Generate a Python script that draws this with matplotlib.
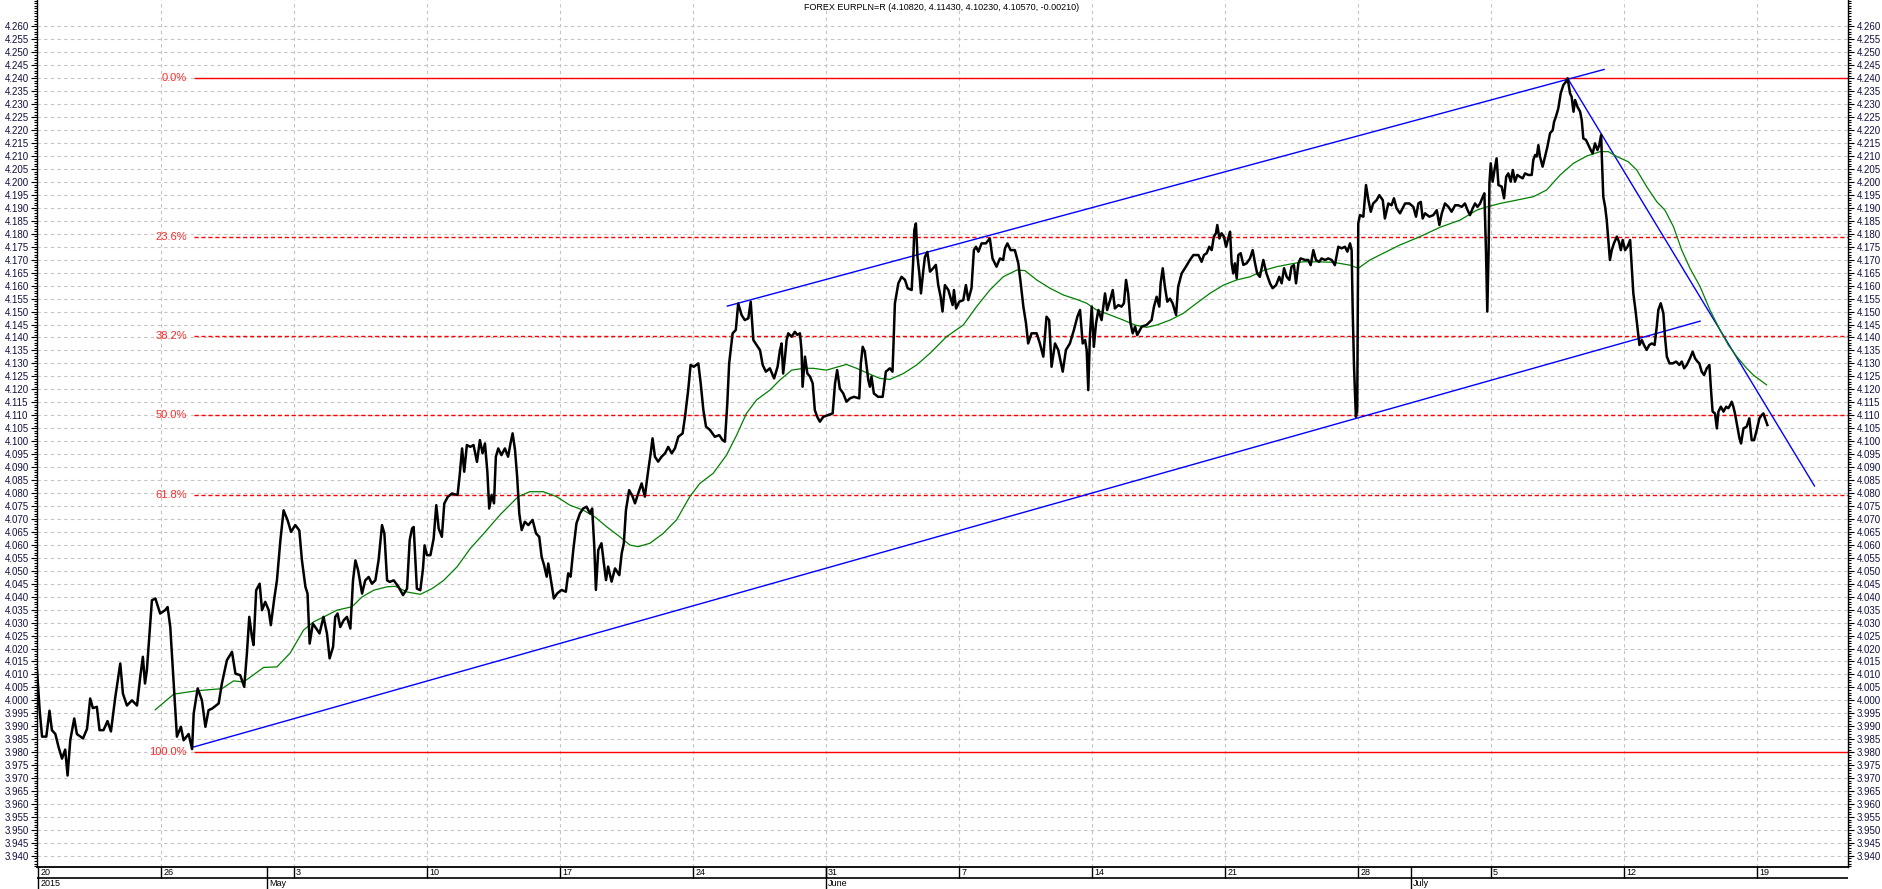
import matplotlib
matplotlib.use("Agg")
from matplotlib import pyplot as plt
import matplotlib.ticker as ticker

plt.rcParams['font.family'] = ['Liberation Sans', 'DejaVu Sans']

title = "FOREX EURPLN=R (4.10820, 4.11430, 4.10230, 4.10570, -0.00210)"

# x = trading days counted from Monday 20 April 2015 (weekends removed)
# close prices in four stretches
seg1_days = [0.34, 0.44, 0.53, 0.69, 0.81, 0.90, 1.03, 1.15, 1.28, 1.40,
             1.49, 1.59, 1.74, 1.84, 2.07, 2.22, 2.34, 2.44, 2.59, 2.69,
             2.84, 2.99, 3.12, 3.28, 3.47, 3.57, 3.72, 3.91, 4.10, 4.22,
             4.32, 4.40, 4.47, 4.66, 4.79, 4.97, 5.16, 5.25, 5.35, 5.48,
             5.60, 5.75, 5.85, 6.04, 6.17, 6.23, 6.38, 6.54, 6.67, 6.79,
             6.92, 7.17, 7.29, 7.48, 7.67, 7.80, 7.98, 8.13, 8.23, 8.32,
             8.42, 8.48, 8.58, 8.71, 8.80, 8.92, 9.05, 9.13, 9.26, 9.36,
             9.49, 9.61, 9.76, 9.89, 10.05, 10.20, 10.30, 10.43, 10.51, 10.59,
             10.71, 10.84, 10.96, 11.11, 11.24, 11.34, 11.47, 11.55, 11.64, 11.74,
             11.87, 11.99, 12.12, 12.22, 12.31, 12.41, 12.56, 12.68, 12.81, 12.93,
             13.06, 13.18, 13.31, 13.40, 13.50, 13.60, 13.75, 13.93, 14.10, 14.25,
             14.35, 14.44, 14.50, 14.62, 14.75, 14.85, 14.91, 15.00, 15.13, 15.25,
             15.35, 15.44, 15.56, 15.65, 15.78, 15.94, 16.15, 16.23, 16.32, 16.40,
             16.50, 16.63, 16.75, 16.88]
seg1_close = [4.0116, 3.9962, 3.9860, 3.9860, 3.9960, 3.9885, 3.9870, 3.9820, 3.9775, 3.9810,
              3.9710, 3.9846, 3.9930, 3.9870, 3.9853, 3.9890, 4.0007, 3.9970, 3.9975, 3.9885,
              3.9885, 3.9920, 3.9880, 4.0010, 4.0142, 4.0026, 3.9980, 4.0000, 3.9980, 4.0090,
              4.0168, 4.0065, 4.0116, 4.0386, 4.0393, 4.0335, 4.0348, 4.0360, 4.0283, 4.0065,
              3.9860, 3.9898, 3.9846, 3.9870, 3.9812, 3.9949, 4.0046, 4.0000, 3.9898, 3.9962,
              3.9968, 3.9988, 4.0065, 4.0155, 4.0187, 4.0103, 4.0097, 4.0052, 4.0180, 4.0322,
              4.0245, 4.0213, 4.0425, 4.0450, 4.0348, 4.0380, 4.0348, 4.0290, 4.0393, 4.0463,
              4.0618, 4.0733, 4.0695, 4.0650, 4.0676, 4.0656, 4.0540, 4.0438, 4.0412, 4.0219,
              4.0296, 4.0277, 4.0258, 4.0322, 4.0258, 4.0162, 4.0206, 4.0322, 4.0335, 4.0283,
              4.0309, 4.0322, 4.0277, 4.0463, 4.0540, 4.0502, 4.0412, 4.0463, 4.0476, 4.0450,
              4.0463, 4.0540, 4.0676, 4.0643, 4.0463, 4.0457, 4.0463, 4.0438, 4.0406, 4.0431,
              4.0618, 4.0663, 4.0669, 4.0431, 4.0425, 4.0508, 4.0598, 4.0560, 4.0560, 4.0624,
              4.0753, 4.0663, 4.0631, 4.0759, 4.0785, 4.0798, 4.0792, 4.0869, 4.0972, 4.0882,
              4.0985, 4.0978, 4.0985, 4.0920]

seg2_days = [16.99, 17.09, 17.18, 17.27, 17.34, 17.43, 17.52, 17.59, 17.68, 17.80,
             17.93, 18.05, 18.14, 18.22, 18.31, 18.39, 18.47, 18.56, 18.68, 18.81,
             18.97, 19.10, 19.22, 19.31, 19.40, 19.50, 19.56, 19.62, 19.72, 19.77,
             19.90, 20.06, 20.22, 20.31, 20.40, 20.50, 20.62, 20.75, 20.87, 21.00,
             21.13, 21.21, 21.29, 21.35, 21.44, 21.56, 21.65, 21.73, 21.81, 21.94,
             22.07, 22.23, 22.32, 22.40, 22.48, 22.60, 22.73, 22.82, 22.94, 23.07,
             23.19, 23.32, 23.41, 23.48, 23.57, 23.69, 23.82, 23.95, 24.07, 24.20,
             24.32, 24.45, 24.61, 24.70, 24.82, 24.91, 25.03, 25.20, 25.29, 25.39,
             25.49, 25.64, 25.82, 25.99, 26.11, 26.20, 26.29, 26.36, 26.49, 26.61,
             26.70, 26.83, 26.95, 27.08, 27.17, 27.27, 27.39, 27.52, 27.62, 27.74,
             27.89, 28.05, 28.18, 28.27, 28.33, 28.39, 28.46, 28.52, 28.58, 28.71,
             28.83, 28.92, 29.02, 29.08, 29.12, 29.21, 29.30, 29.40, 29.50, 29.58,
             29.67, 29.77, 29.90, 30.09, 30.25, 30.34, 30.42, 30.52, 30.65, 30.77,
             30.90, 31.05, 31.25, 31.31, 31.38, 31.46, 31.53, 31.59, 31.65, 31.71,
             31.80, 31.96, 32.13, 32.18, 32.25, 32.40, 32.50, 32.53, 32.59, 32.72,
             32.84, 32.97, 33.07, 33.22, 33.28, 33.32, 33.38, 33.44, 33.51, 33.57,
             33.66, 33.72, 33.81, 33.91, 34.03, 34.13, 34.22, 34.31, 34.38, 34.47,
             34.60]
seg2_close = [4.1004, 4.0953, 4.0991, 4.0882, 4.0740, 4.0792, 4.0760, 4.0940, 4.0972, 4.0946,
              4.0972, 4.0940, 4.0991, 4.1030, 4.0966, 4.0863, 4.0721, 4.0657, 4.0689, 4.0676,
              4.0696, 4.0644, 4.0631, 4.0554, 4.0522, 4.0477, 4.0528, 4.0490, 4.0426, 4.0393,
              4.0413, 4.0426, 4.0419, 4.0490, 4.0477, 4.0580, 4.0683, 4.0721, 4.0740, 4.0747,
              4.0721, 4.0740, 4.0593, 4.0426, 4.0580, 4.0606, 4.0528, 4.0464, 4.0516, 4.0458,
              4.0509, 4.0483, 4.0567, 4.0606, 4.0734, 4.0811, 4.0786, 4.0760, 4.0798, 4.0837,
              4.0786, 4.0889, 4.0953, 4.1011, 4.0940, 4.0921, 4.0940, 4.0953, 4.0978, 4.0953,
              4.0972, 4.1017, 4.1030, 4.1094, 4.1197, 4.1294, 4.1287, 4.1300, 4.1223, 4.1120,
              4.1056, 4.1043, 4.1017, 4.1023, 4.1004, 4.0998, 4.1146, 4.1300, 4.1416, 4.1429,
              4.1531, 4.1486, 4.1467, 4.1474, 4.1538, 4.1390, 4.1371, 4.1351, 4.1294, 4.1268,
              4.1281, 4.1242, 4.1287, 4.1351, 4.1377, 4.1261, 4.1326, 4.1390, 4.1416, 4.1403,
              4.1422, 4.1410, 4.1416, 4.1351, 4.1210, 4.1326, 4.1261, 4.1249, 4.1223, 4.1120,
              4.1094, 4.1075, 4.1094, 4.1101, 4.1107, 4.1223, 4.1274, 4.1203, 4.1184, 4.1152,
              4.1165, 4.1171, 4.1165, 4.1300, 4.1364, 4.1345, 4.1287, 4.1236, 4.1210, 4.1249,
              4.1184, 4.1171, 4.1171, 4.1210, 4.1268, 4.1281, 4.1268, 4.1351, 4.1531, 4.1609,
              4.1634, 4.1622, 4.1590, 4.1583, 4.1699, 4.1814, 4.1840, 4.1711, 4.1647, 4.1570,
              4.1660, 4.1711, 4.1730, 4.1654, 4.1667, 4.1680, 4.1602, 4.1557, 4.1500, 4.1602,
              4.1583]

seg3_days = [34.76, 34.81, 34.89, 35.01, 35.16, 35.26, 35.35, 35.47, 35.56, 35.64,
             35.73, 35.85, 36.01, 36.16, 36.26, 36.41, 36.54, 36.66, 36.73, 36.82,
             36.94, 37.10, 37.23, 37.32, 37.42, 37.52, 37.60, 37.73, 37.92, 38.04,
             38.17, 38.29, 38.39, 38.48, 38.61, 38.73, 38.90, 39.02, 39.17, 39.32,
             39.45, 39.55, 39.65, 39.74, 39.80, 39.86, 39.92, 39.99, 40.07, 40.15,
             40.24, 40.36, 40.49, 40.57, 40.68, 40.78, 40.86, 40.99, 41.11, 41.20,
             41.28, 41.36, 41.45, 41.53, 41.62, 41.70, 41.87, 42.05, 42.24, 42.33,
             42.43, 42.53, 42.58, 42.66, 42.74, 42.83, 42.93, 43.03, 43.16, 43.24,
             43.37, 43.53, 43.68, 43.81, 44.00, 44.12, 44.21, 44.31, 44.41, 44.50,
             44.58, 44.66, 44.71, 44.79, 44.87, 44.96, 45.04, 45.12, 45.19, 45.25,
             45.31, 45.37, 45.44, 45.50, 45.59, 45.69, 45.81, 45.94, 46.04, 46.13,
             46.21, 46.31, 46.44, 46.56, 46.69, 46.79, 46.92, 47.04, 47.13, 47.22,
             47.32, 47.42, 47.50, 47.59, 47.67, 47.76, 47.84, 48.01, 48.13, 48.22,
             48.32, 48.42, 48.54, 48.63, 48.76, 48.88, 49.01, 49.13, 49.26, 49.38,
             49.51, 49.60, 49.70, 49.76, 49.80, 49.85, 49.92, 49.97, 50.01, 50.07,
             50.20, 50.30, 50.39, 50.48, 50.57, 50.70, 50.80, 50.93, 51.01, 51.14,
             51.26, 51.35, 51.45]
seg3_close = [4.1525, 4.1583, 4.1512, 4.1538, 4.1544, 4.1602, 4.1544, 4.1590, 4.1737, 4.1750,
              4.1731, 4.1763, 4.1763, 4.1782, 4.1705, 4.1673, 4.1705, 4.1699, 4.1744, 4.1763,
              4.1737, 4.1737, 4.1686, 4.1609, 4.1519, 4.1454, 4.1377, 4.1416, 4.1416, 4.1377,
              4.1326, 4.1480, 4.1467, 4.1287, 4.1377, 4.1352, 4.1268, 4.1352, 4.1377, 4.1429,
              4.1480, 4.1506, 4.1377, 4.1390, 4.1352, 4.1197, 4.1403, 4.1519, 4.1364, 4.1454,
              4.1506, 4.1467, 4.1570, 4.1506, 4.1544, 4.1583, 4.1512, 4.1525, 4.1519, 4.1532,
              4.1622, 4.1570, 4.1454, 4.1416, 4.1442, 4.1409, 4.1442, 4.1448, 4.1467, 4.1519,
              4.1557, 4.1519, 4.1609, 4.1667, 4.1596, 4.1538, 4.1550, 4.1532, 4.1487, 4.1596,
              4.1647, 4.1673, 4.1699, 4.1718, 4.1718, 4.1692, 4.1718, 4.1725, 4.1750, 4.1737,
              4.1789, 4.1802, 4.1834, 4.1782, 4.1802, 4.1789, 4.1750, 4.1782, 4.1808, 4.1686,
              4.1647, 4.1686, 4.1628, 4.1718, 4.1725, 4.1680, 4.1686, 4.1705, 4.1737, 4.1686,
              4.1647, 4.1634, 4.1699, 4.1647, 4.1609, 4.1590, 4.1602, 4.1634, 4.1609, 4.1667,
              4.1634, 4.1622, 4.1673, 4.1679, 4.1609, 4.1686, 4.1705, 4.1699, 4.1699, 4.1679,
              4.1737, 4.1699, 4.1692, 4.1705, 4.1699, 4.1705, 4.1699, 4.1679, 4.1750, 4.1744,
              4.1750, 4.1731, 4.1763, 4.1737, 4.1506, 4.1287, 4.1094, 4.1120, 4.1840, 4.1872,
              4.1866, 4.1988, 4.1930, 4.1885, 4.1917, 4.1930, 4.1949, 4.1930, 4.1859, 4.1917,
              4.1910, 4.1937, 4.1898]

seg4_days = [51.58, 51.77, 51.93, 52.08, 52.18, 52.27, 52.36, 52.43, 52.52, 52.68,
             52.83, 52.96, 53.06, 53.15, 53.27, 53.40, 53.52, 53.65, 53.77, 53.90,
             54.02, 54.12, 54.21, 54.31, 54.40, 54.49, 54.59, 54.69, 54.75, 54.81,
             54.86, 54.91, 54.94, 54.99, 55.06, 55.14, 55.21, 55.28, 55.40, 55.49,
             55.57, 55.65, 55.74, 55.82, 55.90, 55.99, 56.09, 56.19, 56.28, 56.40,
             56.53, 56.59, 56.66, 56.72, 56.78, 56.84, 56.94, 57.03, 57.12, 57.22,
             57.32, 57.37, 57.44, 57.53, 57.62, 57.72, 57.82, 57.88, 57.97, 58.03,
             58.10, 58.16, 58.25, 58.35, 58.41, 58.47, 58.57, 58.66, 58.75, 58.82,
             58.91, 59.00, 59.07, 59.14, 59.17, 59.22, 59.29, 59.35, 59.41, 59.47,
             59.54, 59.62, 59.73, 59.81, 59.88, 59.95, 60.04, 60.13, 60.23, 60.29,
             60.35, 60.43, 60.50, 60.58, 60.67, 60.75, 60.85, 60.95, 61.05, 61.15,
             61.23, 61.29, 61.38, 61.48, 61.54, 61.61, 61.71, 61.83, 61.96, 62.08,
             62.17, 62.26, 62.36, 62.48, 62.58, 62.67, 62.76, 62.83, 62.92, 63.01,
             63.11, 63.21, 63.27, 63.33, 63.42, 63.49, 63.55, 63.64, 63.74, 63.84,
             63.92, 63.99, 64.05, 64.11, 64.17, 64.26, 64.34, 64.40, 64.49, 64.61,
             64.71, 64.80, 64.89, 64.99, 65.09, 65.18, 65.24, 65.30, 65.39]
seg4_close = [4.1879, 4.1917, 4.1917, 4.1904, 4.1866, 4.1917, 4.1923, 4.1859, 4.1879, 4.1866,
              4.1872, 4.1891, 4.1834, 4.1879, 4.1917, 4.1904, 4.1885, 4.1910, 4.1910, 4.1904,
              4.1917, 4.1891, 4.1872, 4.1898, 4.1917, 4.1904, 4.1917, 4.1943, 4.1956, 4.1737,
              4.1500, 4.1737, 4.1995, 4.2072, 4.2001, 4.2052, 4.2091, 4.1988, 4.1982, 4.1937,
              4.2020, 4.2033, 4.2001, 4.2046, 4.2001, 4.2027, 4.2020, 4.2014, 4.2033, 4.2027,
              4.2027, 4.2085, 4.2104, 4.2098, 4.2142, 4.2098, 4.2059, 4.2098, 4.2136, 4.2188,
              4.2200, 4.2232, 4.2252, 4.2284, 4.2342, 4.2374, 4.2387, 4.2400, 4.2342, 4.2329,
              4.2271, 4.2316, 4.2290, 4.2271, 4.2239, 4.2168, 4.2162, 4.2142, 4.2123, 4.2110,
              4.2149, 4.2123, 4.2142, 4.2181, 4.2085, 4.1943, 4.1904, 4.1853, 4.1776, 4.1699,
              4.1737, 4.1763, 4.1789, 4.1769, 4.1737, 4.1776, 4.1737, 4.1750, 4.1776, 4.1673,
              4.1570, 4.1506, 4.1442, 4.1371, 4.1390, 4.1371, 4.1352, 4.1371, 4.1377, 4.1371,
              4.1442, 4.1506, 4.1532, 4.1493, 4.1403, 4.1326, 4.1300, 4.1300, 4.1307, 4.1294,
              4.1307, 4.1281, 4.1294, 4.1320, 4.1345, 4.1320, 4.1307, 4.1300, 4.1268, 4.1255,
              4.1281, 4.1294, 4.1197, 4.1114, 4.1107, 4.1049, 4.1114, 4.1133, 4.1114, 4.1133,
              4.1127, 4.1139, 4.1152, 4.1133, 4.1107, 4.1056, 4.1011, 4.0991, 4.1049, 4.1056,
              4.1088, 4.1004, 4.1004, 4.1043, 4.1088, 4.1101, 4.1107, 4.1088, 4.1062]

# green moving average
ma_days = [4.79, 5.48, 6.35, 7.29, 7.73, 8.11, 8.86, 9.36, 9.86, 10.36,
           10.74, 11.24, 11.62, 12.18, 12.56, 13.00, 13.50, 13.81, 14.25, 14.75,
           15.19, 15.63, 16.13, 16.63, 17.13, 17.74, 18.43, 18.87, 19.37, 19.87,
           20.37, 20.87, 21.31, 21.75, 22.25, 22.63, 22.94, 23.38, 23.88, 24.38,
           24.88, 25.26, 25.76, 26.26, 26.64, 27.01, 27.39, 27.89, 28.27, 28.71,
           29.15, 29.52, 30.02, 30.46, 30.77, 31.15, 31.59, 32.03, 32.40, 32.91,
           33.41, 33.91, 34.53, 35.16, 35.66, 36.16, 36.66, 37.17, 37.48, 37.92,
           38.42, 38.92, 39.42, 39.80, 40.17, 40.68, 41.18, 41.62, 42.05, 42.43,
           42.93, 43.43, 43.93, 44.43, 44.94, 45.44, 45.94, 46.44, 46.94, 47.44,
           47.94, 48.44, 49.07, 49.70, 50.01, 50.45, 50.95, 51.58, 52.33, 53.08,
           53.84, 54.46, 54.78, 55.34, 55.97, 56.59, 57.09, 57.60, 58.10, 58.60,
           59.10, 59.41, 59.73, 60.16, 60.48, 60.85, 61.23, 61.54, 61.86, 62.17,
           62.48, 62.86, 63.23, 63.61, 63.92, 64.24, 64.61, 64.86, 65.11, 65.36]
ma_vals = [3.9964, 4.0024, 4.0037, 4.0045, 4.0075, 4.0071, 4.0127, 4.0129, 4.0183, 4.0271,
           4.0303, 4.0328, 4.0348, 4.0361, 4.0399, 4.0425, 4.0438, 4.0440, 4.0418, 4.0409,
           4.0431, 4.0463, 4.0515, 4.0586, 4.0643, 4.0715, 4.0786, 4.0805, 4.0805, 4.0786,
           4.0753, 4.0734, 4.0708, 4.0670, 4.0631, 4.0599, 4.0593, 4.0606, 4.0644, 4.0696,
           4.0786, 4.0837, 4.0876, 4.0946, 4.1023, 4.1107, 4.1159, 4.1197, 4.1236, 4.1274,
           4.1281, 4.1281, 4.1274, 4.1287, 4.1296, 4.1281, 4.1261, 4.1242, 4.1238, 4.1261,
           4.1294, 4.1339, 4.1403, 4.1448, 4.1519, 4.1583, 4.1634, 4.1660, 4.1658, 4.1622,
           4.1590, 4.1564, 4.1547, 4.1532, 4.1506, 4.1487, 4.1467, 4.1448, 4.1439, 4.1448,
           4.1467, 4.1493, 4.1532, 4.1570, 4.1602, 4.1622, 4.1634, 4.1658, 4.1673, 4.1683,
           4.1692, 4.1692, 4.1690, 4.1679, 4.1667, 4.1699, 4.1725, 4.1757, 4.1789, 4.1825,
           4.1853, 4.1891, 4.1902, 4.1917, 4.1930, 4.1943, 4.1969, 4.2027, 4.2072, 4.2100,
           4.2117, 4.2117, 4.2098, 4.2078, 4.2046, 4.1982, 4.1924, 4.1891, 4.1827, 4.1737,
           4.1667, 4.1596, 4.1506, 4.1429, 4.1371, 4.1326, 4.1281, 4.1255, 4.1236, 4.1217]

# blue trend lines: (day0, price0, day1, price1)
trend_lines = [(6.23, 3.9820, 62.86, 4.1463),
               (26.29, 4.1521, 59.25, 4.2434),
               (57.88, 4.2400, 67.16, 4.0827)]

# fibonacci retracement between the April low and the July high
fib_start = 6.23
fib_low = 3.980
fib_high = 4.240
fib_ratios = [0.0, 0.236, 0.382, 0.5, 0.618, 1.0]
fib_labels = ['0.0%', '23.6%', '38.2%', '50.0%', '61.8%', '100.0%']

# x axis: week starts (Sunday labels) and month starts
week_days = [5, 10, 15, 20, 25, 30, 35, 40, 45, 50, 55, 60, 65]
week_labels = ['26', '3', '10', '17', '24', '31', '7', '14', '21', '28', '5', '12', '19']
first_label = '20'
month_days = [9, 30, 52]
month_labels = ['May', 'June', 'July']
year_label = '2015'

price_ticks = [round(3.940 + 0.005 * i, 3) for i in range(65)]

x_min, x_max = 0.34, 68.42
y_min, y_max = 3.9357, 4.2702

price_days = seg1_days + seg2_days + seg3_days + seg4_days
price_close = seg1_close + seg2_close + seg3_close + seg4_close

W, H = 1883, 889
fig = plt.figure(figsize=(W / 100, H / 100), dpi=100)
ax = fig.add_axes([37 / W, 22 / H, 1811 / W, 867 / H])
band = fig.add_axes([37 / W, 0, 1811 / W, 22 / H], sharex=ax)

ax.set_xlim(x_min, x_max)
ax.set_ylim(y_min, y_max)

# grid
ax.set_xticks(week_days)
ax.yaxis.set_major_locator(ticker.FixedLocator(price_ticks))
ax.yaxis.set_minor_locator(ticker.MultipleLocator(0.001))
ax.yaxis.set_major_formatter(ticker.FormatStrFormatter('%.3f'))
ax.grid(True, which='major', color='#c4c4c4', linestyle=(0, (3, 3)), lw=0.8)
ax.set_axisbelow(True)
ax.tick_params(axis='x', length=0, labelbottom=False)
ax.tick_params(axis='y', which='both', left=True, right=True, labelleft=True,
               labelright=True, direction='out', labelsize=7, labelcolor='#101040',
               color='black', width=0.8)
ax.tick_params(axis='y', which='major', length=4, pad=2)
ax.tick_params(axis='y', which='minor', length=2)
ax.spines['top'].set_visible(False)
ax.spines['bottom'].set_linewidth(1.3)
ax.spines['left'].set_linewidth(1.0)
ax.spines['right'].set_linewidth(1.0)

# fibonacci levels
for r, lbl in zip(fib_ratios, fib_labels):
    level = fib_high - r * (fib_high - fib_low)
    ls = '-' if r in (0.0, 1.0) else (0, (3, 2))
    ax.hlines(level, fib_start, x_max, color='#ff0000', lw=1.0, linestyles=ls, zorder=2)
    ax.text(fib_start - 0.25, level, lbl, ha='right', va='center', color='#ff2a2a',
            fontsize=8)

# trend lines
for d0, p0, d1, p1 in trend_lines:
    ax.plot([d0, d1], [p0, p1], color='#0000ff', lw=1.0, zorder=3)

# moving average and close
ax.plot(ma_days, ma_vals, color='#008000', lw=0.9, zorder=4)
ax.plot(price_days, price_close, color='black', lw=1.8, zorder=5)

fig.text(0.5, 1 - 7.5 / H, title, ha='center', va='center', fontsize=6.5)

# date band under the chart
band.set_ylim(0, 2)
band.axis('off')
band.axhline(1, color='black', lw=1.2)
band.vlines(week_days, 1, 2, color='black', lw=1.0, clip_on=False)
band.vlines(month_days, 0, 2, color='black', lw=1.0, clip_on=False)
band.vlines([x_min + 0.03], 0, 2, color='black', lw=1.0, clip_on=False)
band.text(x_min + 0.12, 1.5, first_label, ha='left', va='center', fontsize=6.5)
band.text(x_min + 0.12, 0.5, year_label, ha='left', va='center', fontsize=6.5)
for d, lbl in zip(week_days, week_labels):
    band.text(d + 0.08, 1.5, lbl, ha='left', va='center', fontsize=6.5)
for d, lbl in zip(month_days, month_labels):
    band.text(d + 0.08, 0.5, lbl, ha='left', va='center', fontsize=6.5)

fig.savefig('out.png', dpi=100)
